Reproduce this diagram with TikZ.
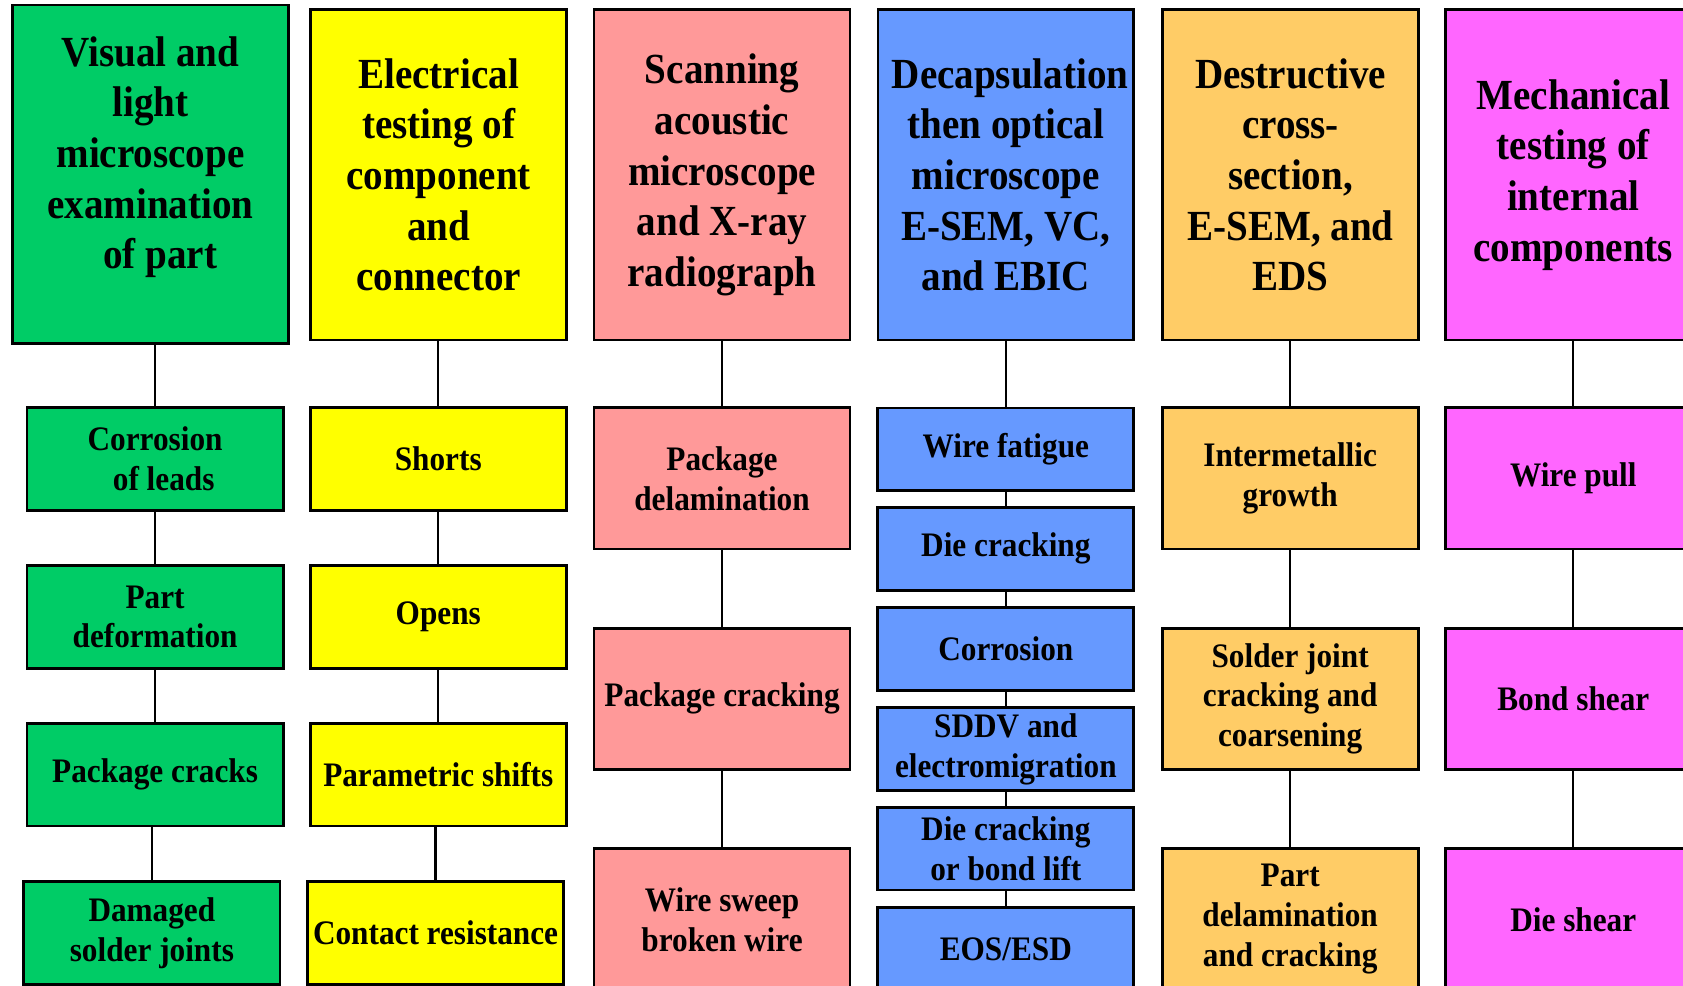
\documentclass[tikz,border=0pt]{standalone}
\usepackage{fontspec}
\setmainfont{Liberation Serif}[FakeStretch=0.91]

\definecolor{vgreen}{RGB}{0,204,102}
\definecolor{eyellow}{RGB}{255,255,0}
\definecolor{spink}{RGB}{255,153,153}
\definecolor{dblue}{RGB}{102,153,255}
\definecolor{xorange}{RGB}{255,204,102}
\definecolor{mmagenta}{RGB}{255,102,255}

\tikzset{
  toptext/.style={align=center, font=\fontsize{20pt}{23.6pt}\selectfont\bfseries},
  topbox/.style={toptext, draw, line width=1.3pt, minimum width=119.2pt, minimum height=153.8pt, inner sep=1pt},
  failbox/.style={draw, line width=1.3pt, minimum width=119.3pt, inner sep=1pt, align=center, font=\fontsize{16pt}{18.6pt}\selectfont\bfseries},
  link/.style={line width=1pt}
}

\begin{document}
\begin{tikzpicture}[x=0.5pt, y=-0.5pt]

\useasboundingbox (0,0) rectangle (1568,918.6);
\fill[white] (0,0) rectangle (1568,918.6);
\clip (0,0) rectangle (1568,918.6);

% test methods
\node[topbox, fill=vgreen, minimum width=128.7pt, minimum height=157.6pt,
  label={[toptext, yshift=8pt]center:{Visual and\\light\\microscope\\examination\\\hspace*{9pt}of part}}] (vis) at (140.2,162.3) {};
\node[topbox, fill=eyellow] (ele) at (408.6,163) {Electrical\\testing of\\component\\and\\connector};
\node[topbox, fill=spink] (sam) at (672.7,163) {Scanning\\acoustic\\microscope\\and X-ray\\radiograph};
\node[topbox, fill=dblue] (dec) at (937.1,163) {\hspace*{4pt}Decapsulation\\then optical\\microscope\\E-SEM, VC,\\and EBIC};
\node[topbox, fill=xorange] (xsec) at (1202.3,163) {Destructive\\cross-\\section,\\E-SEM, and\\EDS};
\node[topbox, fill=mmagenta] (mech) at (1465.8,163) {Mechanical\\testing of\\internal\\components};

% failures found
\node[failbox, fill=vgreen, minimum height=47.8pt] (g1) at (144.5,427.8) {Corrosion\\\hspace*{8pt}of leads};
\node[failbox, fill=vgreen, minimum height=47.8pt] (g2) at (144.5,574.8) {Part\\deformation};
\node[failbox, fill=vgreen, minimum height=47.8pt] (g3) at (144.5,721.8) {Package cracks};
\node[failbox, fill=vgreen, minimum height=47.8pt] (g4) at (141.5,869.2) {Damaged\\solder joints};

\node[failbox, fill=eyellow, minimum height=47.8pt] (e1) at (408.3,427.8) {Shorts};
\node[failbox, fill=eyellow, minimum height=47.8pt] (e2) at (408.3,574.8) {Opens};
\node[failbox, fill=eyellow, minimum height=47.8pt] (e3) at (408.3,721.8) {Parametric shifts};
\node[failbox, fill=eyellow, minimum height=47.8pt] (e4) at (405.8,869.2) {Contact resistance};

\node[failbox, fill=spink, minimum height=65.7pt] (s1) at (672.7,445.7) {Package\\delamination};
\node[failbox, fill=spink, minimum height=65.7pt] (s2) at (672.7,651.1) {Package cracking};
\node[failbox, fill=spink, minimum height=65.7pt] (s3) at (672.7,856.5) {Wire sweep\\broken wire};

\node[failbox, fill=dblue, minimum height=38.6pt] (d1) at (937.1,418.7) {Wire fatigue};
\node[failbox, fill=dblue, minimum height=38.6pt] (d2) at (937.1,511.3) {Die cracking};
\node[failbox, fill=dblue, minimum height=38.6pt] (d3) at (937.1,604.4) {Corrosion};
\node[failbox, fill=dblue, minimum height=38.6pt] (d4) at (937.1,697.9) {SDDV and\\electromigration};
\node[failbox, fill=dblue, minimum height=38.6pt] (d5) at (937.1,790.6) {Die cracking\\or bond lift};
\node[failbox, fill=dblue, minimum height=38.6pt] (d6) at (937.1,884) {EOS/ESD};

\node[failbox, fill=xorange, minimum height=65.7pt] (x1) at (1202,445.7) {Intermetallic\\growth};
\node[failbox, fill=xorange, minimum height=65.7pt] (x2) at (1202,651.1) {Solder joint\\cracking and\\coarsening};
\node[failbox, fill=xorange, minimum height=65.7pt] (x3) at (1202,856.5) {Part\\delamination\\and cracking};

\node[failbox, fill=mmagenta, minimum height=65.7pt] (m1) at (1465.8,445.7) {Wire pull};
\node[failbox, fill=mmagenta, minimum height=65.7pt] (m2) at (1465.8,651.1) {Bond shear};
\node[failbox, fill=mmagenta, minimum height=65.7pt] (m3) at (1465.8,856.5) {Die shear};

% connectors
\foreach \a/\b in {vis/g1,g1/g2,g2/g3,g3/g4, ele/e1,e1/e2,e2/e3,e3/e4, sam/s1,s1/s2,s2/s3,
  dec/d1,d1/d2,d2/d3,d3/d4,d4/d5,d5/d6, xsec/x1,x1/x2,x2/x3, mech/m1,m1/m2,m2/m3}
  \draw[link] (\a.south -| \b.north) -- (\b.north);

\end{tikzpicture}
\end{document}
